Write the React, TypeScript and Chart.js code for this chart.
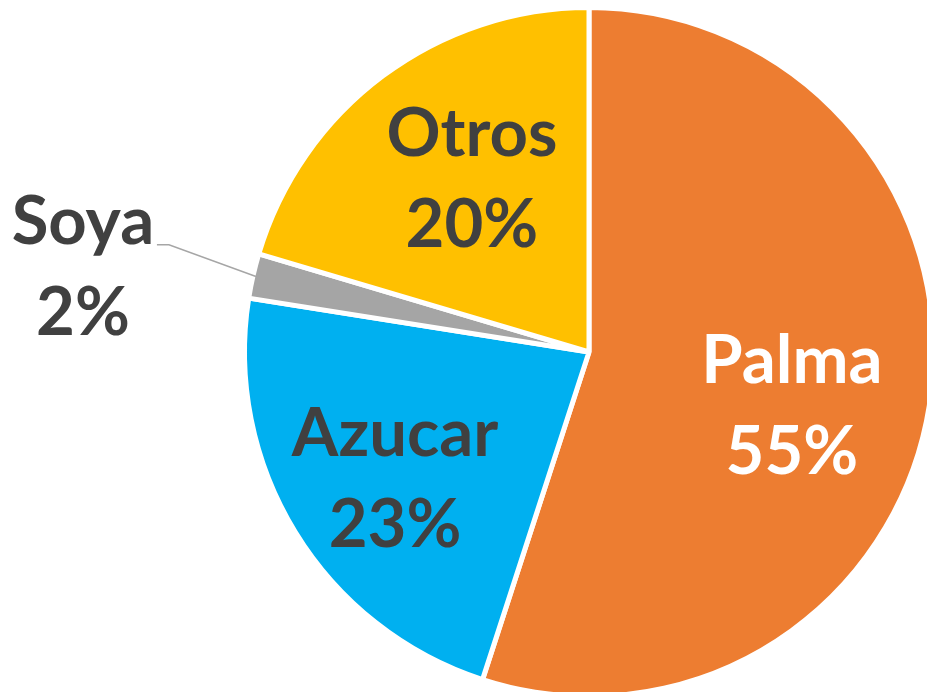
import React, { useEffect, useRef } from "react";
import { Chart, registerables } from "chart.js";

Chart.register(...registerables);

const categories = ["Palma", "Azucar", "Soya", "Otros"];
const values = [55, 22.5, 2.1, 20.4];
const percentLabels = ["55%", "23%", "2%", "20%"];
const sliceColors = ["#ED7D31", "#00B0F0", "#A5A5A5", "#FFC000"];
const labelColors = ["#FFFFFF", "#404040", "#404040", "#404040"];
// label anchor offsets in units of the pie radius (x centre, first baseline)
const labelOffsetX = [0.589, -0.563, -1.469, -0.34];
const labelOffsetY = [0.091, 0.302, -0.314, -0.569];
const hasLeader = [false, false, true, false];

const FONT_FAMILY = "Lato, 'Open Sans', sans-serif";
const FONT_SIZE = 67;
const LINE_GAP = 91;

const labelPlugin = {
  id: "sliceLabels",
  afterDatasetsDraw(chart: any) {
    const ctx = chart.ctx;
    const meta = chart.getDatasetMeta(0);
    ctx.save();
    meta.data.forEach((arc: any, i: number) => {
      const p = arc.getProps(["x", "y", "outerRadius", "startAngle", "endAngle"], true);
      const r = p.outerRadius;
      const tx = p.x + labelOffsetX[i] * r;
      const ty = p.y + labelOffsetY[i] * r;
      if (hasLeader[i]) {
        const mid = (p.startAngle + p.endAngle) / 2;
        const ex = p.x + Math.cos(mid) * (r - 3);
        const ey = p.y + Math.sin(mid) * (r - 3);
        ctx.beginPath();
        ctx.strokeStyle = "#A6A6A6";
        ctx.lineWidth = 1.5;
        const sx = tx + 74;
        const sy = ty + 1;
        ctx.moveTo(sx, sy);
        ctx.lineTo(sx + 12, sy);
        ctx.lineTo(ex, ey);
        ctx.stroke();
      }
      ctx.fillStyle = labelColors[i];
      ctx.font = `bold ${FONT_SIZE}px ${FONT_FAMILY}`;
      ctx.textAlign = "center";
      ctx.textBaseline = "alphabetic";
      ctx.fillText(categories[i], tx, ty);
      ctx.fillText(percentLabels[i], tx, ty + LINE_GAP);
    });
    ctx.restore();
  },
};

export default function App() {
  const ref = useRef<HTMLCanvasElement | null>(null);
  useEffect(() => {
    if (!ref.current) return;
    const chart = new Chart(ref.current, {
      type: "pie",
      data: {
        labels: categories,
        datasets: [
          {
            data: values,
            backgroundColor: sliceColors,
            borderColor: "#FFFFFF",
            borderWidth: 5,
            hoverOffset: 0,
            offset: 0,
          },
        ],
      },
      options: {
        responsive: false,
        animation: false,
        events: [],
        layout: { padding: { left: 242, right: 264, top: 5, bottom: 1 } },
        plugins: {
          legend: { display: false },
          tooltip: { enabled: false },
          title: { display: false },
        },
      },
      plugins: [labelPlugin],
    });
    return () => chart.destroy();
  }, []);
  return (
    <div
      style={{
        position: "fixed",
        left: 0,
        top: 0,
        width: 927,
        height: 692,
        overflow: "hidden",
        background: "#FFFFFF",
      }}
    >
      <canvas ref={ref} width={1200} height={700} style={{ width: 1200, height: 700, display: "block" }} />
    </div>
  );
}
